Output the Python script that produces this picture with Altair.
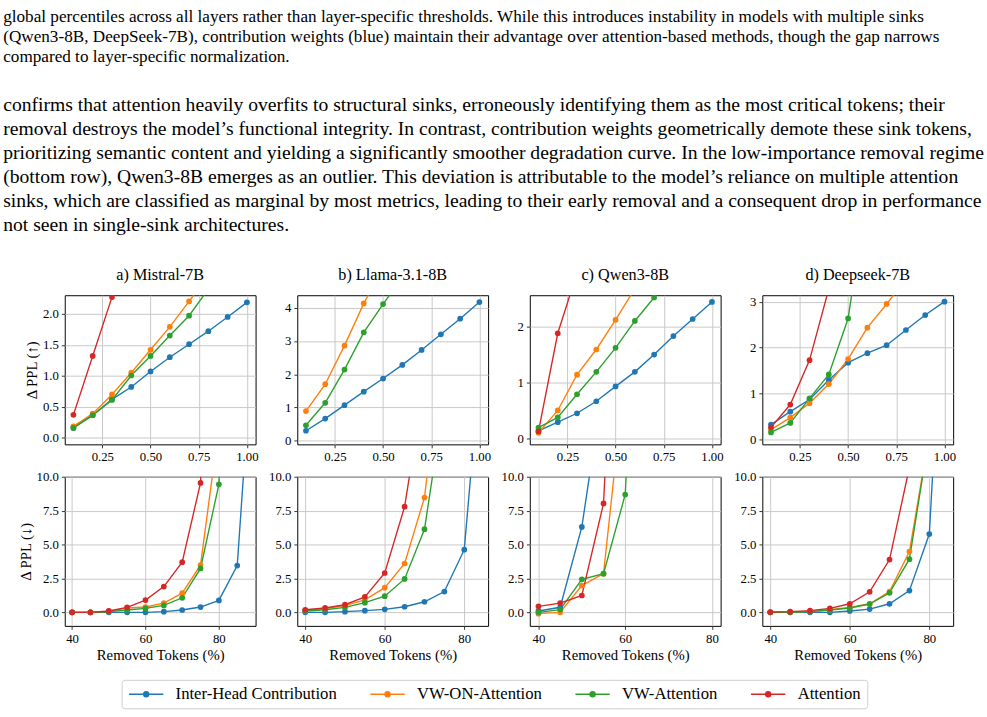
import altair as alt
import pandas as pd

FONT = "Liberation Serif"

methods = ["Inter-Head Contribution", "VW-ON-Attention", "VW-Attention", "Attention"]
method_colors = ["#1f77b4", "#ff7f0e", "#2ca02c", "#d62728"]
panel_titles = ["a) Mistral-7B", "b) Llama-3.1-8B", "c) Qwen3-8B", "d) Deepseek-7B"]

high_x = [0.1, 0.2, 0.3, 0.4, 0.5, 0.6, 0.7, 0.8, 0.9, 1.0]
low_x = [40, 45, 50, 55, 60, 65, 70, 75, 80, 85, 90]

high_x_ticks = [0.25, 0.5, 0.75, 1.0]
low_x_ticks = [40, 60, 80]
low_y_ticks = [0.0, 2.5, 5.0, 7.5, 10.0]
mistral_high_y_ticks = [0.0, 0.5, 1.0, 1.5, 2.0]
llama_high_y_ticks = [0, 1, 2, 3, 4]
qwen_high_y_ticks = [0, 1, 2]
deepseek_high_y_ticks = [0, 1, 2, 3]

# high-importance removal (top row), x = fraction removed
mistral_high_ihc = [0.16, 0.365, 0.62, 0.82, 1.07, 1.30, 1.51, 1.72, 1.95, 2.185]
mistral_high_vwon = [0.185, 0.39, 0.70, 1.05, 1.42, 1.79, 2.20, 2.62]
mistral_high_vw = [0.16, 0.365, 0.61, 1.005, 1.32, 1.65, 1.97, 2.40]
mistral_high_att = [0.37, 1.32, 2.27, 3.2]

llama_high_ihc = [0.30, 0.665, 1.07, 1.475, 1.87, 2.28, 2.73, 3.20, 3.67, 4.17]
llama_high_vwon = [0.89, 1.70, 2.86, 4.13, 5.2]
llama_high_vw = [0.465, 1.14, 2.14, 3.26, 4.11, 4.9]
llama_high_att = []

qwen_high_ihc = [0.135, 0.29, 0.45, 0.665, 0.93, 1.19, 1.50, 1.83, 2.135, 2.44]
qwen_high_vwon = [0.10, 0.50, 1.14, 1.59, 2.12, 2.68]
qwen_high_vw = [0.195, 0.375, 0.79, 1.19, 1.62, 2.10, 2.52, 2.95]
qwen_high_att = [0.125, 1.88, 2.96]

deepseek_high_ihc = [0.33, 0.61, 0.875, 1.30, 1.675, 1.88, 2.055, 2.385, 2.71, 3.0]
deepseek_high_vwon = [0.22, 0.48, 0.795, 1.21, 1.755, 2.435, 2.95, 3.49]
deepseek_high_vw = [0.16, 0.365, 0.90, 1.42, 2.635, 5.4]
deepseek_high_att = [0.27, 0.765, 1.73, 3.28]

# low-importance removal (bottom row), x = removed tokens (%)
mistral_low_ihc = [0.0, 0.0, 0.0, 0.0, 0.0, 0.05, 0.17, 0.39, 0.88, 3.45, 23.0]
mistral_low_vwon = [0.0, 0.0, 0.07, 0.32, 0.39, 0.68, 1.41, 3.48, 13.7]
mistral_low_vw = [0.0, 0.0, 0.05, 0.17, 0.29, 0.51, 1.07, 3.24, 9.44, 40.0]
mistral_low_att = [0.0, 0.0, 0.10, 0.37, 0.90, 1.90, 3.70, 9.54, 40.0]

llama_low_ihc = [0.0, 0.0, 0.05, 0.12, 0.22, 0.41, 0.78, 1.53, 4.62, 21.5]
llama_low_vwon = [0.12, 0.27, 0.49, 0.92, 1.82, 3.60, 8.47, 21.0]
llama_low_vw = [0.10, 0.19, 0.36, 0.71, 1.19, 2.46, 6.13, 15.8]
llama_low_att = [0.19, 0.32, 0.56, 1.14, 2.90, 7.79, 17.0]

qwen_low_ihc = [0.10, 0.37, 6.30, 17.0]
qwen_low_vwon = [-0.10, 0.0, 1.97, 2.85, 17.8]
qwen_low_vw = [0.0, 0.20, 2.43, 2.85, 8.69, 40.0]
qwen_low_att = [0.44, 0.68, 1.24, 8.03, 40.0]

deepseek_low_ihc = [0.0, 0.0, 0.0, 0.0, 0.10, 0.24, 0.63, 1.60, 5.77, 32.0]
deepseek_low_vwon = [0.0, 0.02, 0.07, 0.19, 0.36, 0.63, 1.53, 4.48, 13.1]
deepseek_low_vw = [0.0, 0.0, 0.05, 0.17, 0.32, 0.61, 1.44, 3.92, 13.1]
deepseek_low_att = [0.02, 0.05, 0.12, 0.29, 0.63, 1.51, 3.89, 10.7]

paragraph_1 = [
    "global percentiles across all layers rather than layer-specific thresholds. While this introduces instability in models with multiple sinks",
    "(Qwen3-8B, DeepSeek-7B), contribution weights (blue) maintain their advantage over attention-based methods, though the gap narrows",
    "compared to layer-specific normalization.",
]
paragraph_2 = [
    "confirms that attention heavily overfits to structural sinks, erroneously identifying them as the most critical tokens; their",
    "removal destroys the model\u2019s functional integrity. In contrast, contribution weights geometrically demote these sink tokens,",
    "prioritizing semantic content and yielding a significantly smoother degradation curve. In the low-importance removal regime",
    "(bottom row), Qwen3-8B emerges as an outlier. This deviation is attributable to the model\u2019s reliance on multiple attention",
    "sinks, which are classified as marginal by most metrics, leading to their early removal and a consequent drop in performance",
    "not seen in single-sink architectures.",
]

high_series = [
    [mistral_high_ihc, mistral_high_vwon, mistral_high_vw, mistral_high_att],
    [llama_high_ihc, llama_high_vwon, llama_high_vw, llama_high_att],
    [qwen_high_ihc, qwen_high_vwon, qwen_high_vw, qwen_high_att],
    [deepseek_high_ihc, deepseek_high_vwon, deepseek_high_vw, deepseek_high_att],
]
low_series = [
    [mistral_low_ihc, mistral_low_vwon, mistral_low_vw, mistral_low_att],
    [llama_low_ihc, llama_low_vwon, llama_low_vw, llama_low_att],
    [qwen_low_ihc, qwen_low_vwon, qwen_low_vw, qwen_low_att],
    [deepseek_low_ihc, deepseek_low_vwon, deepseek_low_vw, deepseek_low_att],
]


def make_df(xs, series_list):
    rows = []
    for method, vals in zip(methods, series_list):
        for xv, yv in zip(xs, vals):
            rows.append({"method": method, "x": xv, "y": yv})
    return pd.DataFrame(rows, columns=["method", "x", "y"])


# legend symbol: a short line with a dot in its middle (rings drawn with the stroke)
rings = [0.36, 0.2, 0.05]
legend_path = "M-1,0L4,0" + "".join(
    f"M{1.5 - r:.3f},0A{r},{r} 0 1,0 {1.5 + r:.3f},0A{r},{r} 0 1,0 {1.5 - r:.3f},0" for r in rings
)

color_scale = alt.Scale(domain=methods, range=method_colors)
legend = alt.Legend(
    title=None, orient="none", legendX=58, legendY=392, direction="horizontal", columns=4,
    symbolType=legend_path, symbolSize=196, symbolStrokeWidth=1.5,
    labelFont=FONT, labelFontSize=17, labelColor="black", labelOffset=32, labelLimit=400,
    columnPadding=30, padding=6, strokeColor="#cccccc", cornerRadius=3, fillColor="white",
)

W, H = 194.5, 152


def panel(df, title, xdom, xticks, xfmt, ydom, yticks, yfmt, xtitle=None, ytitle=None):
    xaxis = dict(values=xticks, format=xfmt)
    yaxis = dict(values=yticks, format=yfmt)
    xaxis["title"] = xtitle
    yaxis["title"] = ytitle
    x = alt.X("x:Q", scale=alt.Scale(domain=xdom, nice=False, zero=False), axis=alt.Axis(**xaxis))
    y = alt.Y("y:Q", scale=alt.Scale(domain=ydom, nice=False, zero=False), axis=alt.Axis(**yaxis))
    base = alt.Chart(df)
    line = base.mark_line(clip=True, strokeWidth=1.4).encode(
        x=x, y=y, color=alt.Color("method:N", scale=color_scale, legend=legend)
    )
    pts = base.mark_circle(clip=True, size=34, opacity=1).encode(
        x=x, y=y, color=alt.Color("method:N", scale=color_scale, legend=None)
    )
    props = dict(width=W, height=H)
    if title:
        props["title"] = alt.TitleParams(text=title, font=FONT, fontSize=16.5, fontWeight="normal",
                                         color="black", offset=12, anchor="middle")
    return alt.layer(line, pts).properties(**props)


high_y_domains = [[-0.106, 2.30], [-0.11, 4.376], [-0.106, 2.56], [-0.10, 3.14]]
high_y_ticks = [mistral_high_y_ticks, llama_high_y_ticks, qwen_high_y_ticks, deepseek_high_y_ticks]
high_y_fmts = [".1f", "d", "d", "d"]
low_x_domains = [[38, 90], [38, 86], [38, 82], [38, 86]]

panels = []
for i in range(4):
    panels.append(panel(
        make_df(high_x, high_series[i]), panel_titles[i],
        [0.055, 1.045], high_x_ticks, ".2f",
        high_y_domains[i], high_y_ticks[i], high_y_fmts[i],
        ytitle="\u0394 PPL (\u2191)" if i == 0 else None,
    ))
for i in range(4):
    panels.append(panel(
        make_df(low_x, low_series[i]), None,
        low_x_domains[i], low_x_ticks, "d",
        [-1.0, 10.0], low_y_ticks, ".1f",
        xtitle="Removed Tokens (%)",
        ytitle="\u0394 PPL (\u2193)" if i == 0 else None,
    ))

chart = alt.concat(*panels, columns=4, spacing={"row": 33, "column": 42}).properties(
    bounds="flush",
    padding={"left": 3, "top": 2, "right": 2, "bottom": 3},
    title=alt.TitleParams(
        text=paragraph_1, subtitle=paragraph_2, anchor="start", frame="bounds",
        font=FONT, fontSize=17.5, fontWeight="normal", lineHeight=20, color="black",
        subtitleFont=FONT, subtitleFontSize=20, subtitleLineHeight=24.5, subtitleColor="black",
        subtitlePadding=31, offset=32, dx=-15,
    ),
).configure(font=FONT).configure_title(
    font=FONT, subtitleFont=FONT, color="black", subtitleColor="black"
).configure_axis(
    labelFont=FONT, labelFontSize=13, labelColor="black",
    titleFont=FONT, titleFontSize=15, titleFontWeight="normal", titleColor="black",
    tickColor="black", tickSize=3.5, tickWidth=0.8, domain=False,
    gridColor="#c8c8c8", gridWidth=1, labelPadding=3, titlePadding=3,
).configure_legend(labelFont=FONT).configure_view(
    stroke="black", strokeWidth=1
)

chart.save("out.html", embed_options={"renderer": "svg", "actions": False})
